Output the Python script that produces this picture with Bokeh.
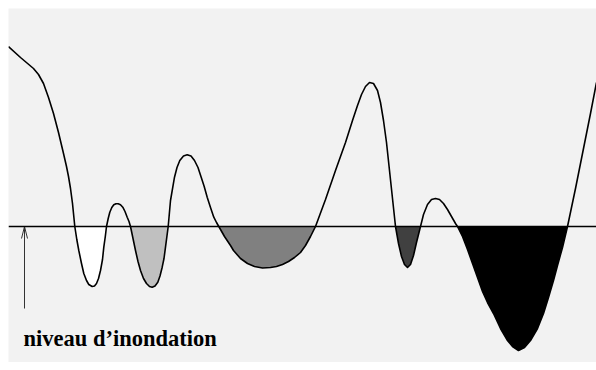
from bokeh.plotting import figure
from bokeh.models import Span
from bokeh.embed import file_html
from bokeh.resources import INLINE
from bokeh.core.properties import value

# terrain profile: distance along profile and elevation
distance = [0, 12, 25, 30, 35, 40, 45, 50, 55, 58, 60, 62, 64, 66.3,
            68.3, 70.3, 73, 75.3, 78, 80.3, 83.7, 86, 88, 90, 92, 94, 95.3, 96.8, 98,
            99.7, 101.3, 103.3, 105.3, 107.5, 109.7, 112, 114.3, 116.5, 118.7, 120.5, 122,
            124.5, 127, 129.5, 132, 135, 138, 141, 143.7, 146.5, 149.3, 151.5, 153.7, 155.5, 157, 159.7,
            162, 166, 168.5, 171.3, 175, 178.7, 182.5, 186, 189.5, 192.7, 195.7, 198.7, 202, 205.3, 208, 210.3,
            216, 222, 225, 232, 239, 246, 254, 262, 268, 274, 280, 286, 292, 297, 302, 307,
            317, 327, 337, 344, 349, 353, 357, 361, 365, 369, 372, 375, 378, 381, 384, 387,
            390, 393, 396, 399, 402, 405, 408, 412,
            415, 419, 423, 427, 431, 435, 439, 443, 447, 449,
            454, 459, 464, 469, 474, 479, 485, 492, 499, 504, 510, 516, 522, 529, 535, 540,
            545, 549, 554, 559,
            567, 575, 582, 588]
elevation = [316, 305, 294, 288, 279, 265, 249, 230, 209, 196, 186, 174, 159, 136,
             123, 112, 99, 89, 82, 78, 76, 76.5, 79, 84, 92, 103, 115.3, 126, 136,
             144, 150.3, 155, 157.7, 158.8, 158.7, 157.8, 155.3, 151, 145.3, 141, 136,
             124, 112, 101, 92, 84, 79, 76, 75.3, 76.5, 80.3, 86.5, 95.3, 104, 115.3, 136,
             162, 185.3, 195, 202, 206.5, 207.7, 206.5, 202, 195, 185.3, 176, 165.3, 155, 145.3, 140, 136,
             126, 117, 112, 104, 99, 96, 94.5, 95, 96, 98, 101, 105, 110, 117, 126, 136,
             163, 192, 220, 242, 257, 268, 276, 280, 279, 272, 260, 242, 220, 192, 164, 136,
             119, 106, 98, 95, 98, 107, 120, 136,
             148, 158, 163, 164, 163, 159, 153, 146, 139, 136,
             126, 113, 99, 85, 71, 60, 49, 34, 22, 16, 12, 15, 22, 34, 49, 65,
             82, 97, 115, 136,
             174, 214, 249, 280]

flood_level = 136
basin_colors = ["#ffffff", "#c0c0c0", "#808080", "#404040", "#000000"]
label = "niveau d\u2019inondation"
arrow_x = 16
arrow_base = 54
label_x = 15
label_y = 24

p = figure(width=596, height=362, x_range=(0, 588), y_range=(0, 354),
           output_backend="svg", toolbar_location=None,
           min_border_left=8, min_border_top=8, min_border_right=0, min_border_bottom=0)
p.axis.visible = False
p.grid.visible = False
p.outline_line_color = None
p.background_fill_color = "#f2f2f2"
p.border_fill_color = "#ffffff"

# find basins (runs of points at or below flood level)
runs = []
cur = []
for xd, e in zip(distance, elevation):
    if e <= flood_level:
        cur.append((xd, e))
    else:
        if len(cur) > 2:
            runs.append(cur)
        cur = []
if len(cur) > 2:
    runs.append(cur)

for run, col in zip(runs, basin_colors):
    xs = [r[0] for r in run]
    ys = [r[1] for r in run]
    p.patch(xs, ys, fill_color=col, line_color=None)

p.add_layout(Span(location=flood_level, dimension="width",
                  line_color="black", line_width=1.5))

p.line(distance, elevation, line_color="black", line_width=1.6, line_join="round")

# arrow to flood level
p.segment(x0=[arrow_x], y0=[arrow_base], x1=[arrow_x], y1=[flood_level],
          line_color="#333333", line_width=1)
p.segment(x0=[arrow_x, arrow_x], y0=[flood_level, flood_level],
          x1=[arrow_x - 3, arrow_x + 3], y1=[flood_level - 12, flood_level - 12],
          line_color="#333333", line_width=1)

p.text(x=[label_x], y=[label_y], text=[label], text_font=value("Liberation Serif"),
       text_font_style="bold", text_font_size="22.5px", text_baseline="alphabetic",
       text_align="left", text_color="black")

open("out.html", "w").write(file_html(p, INLINE))
